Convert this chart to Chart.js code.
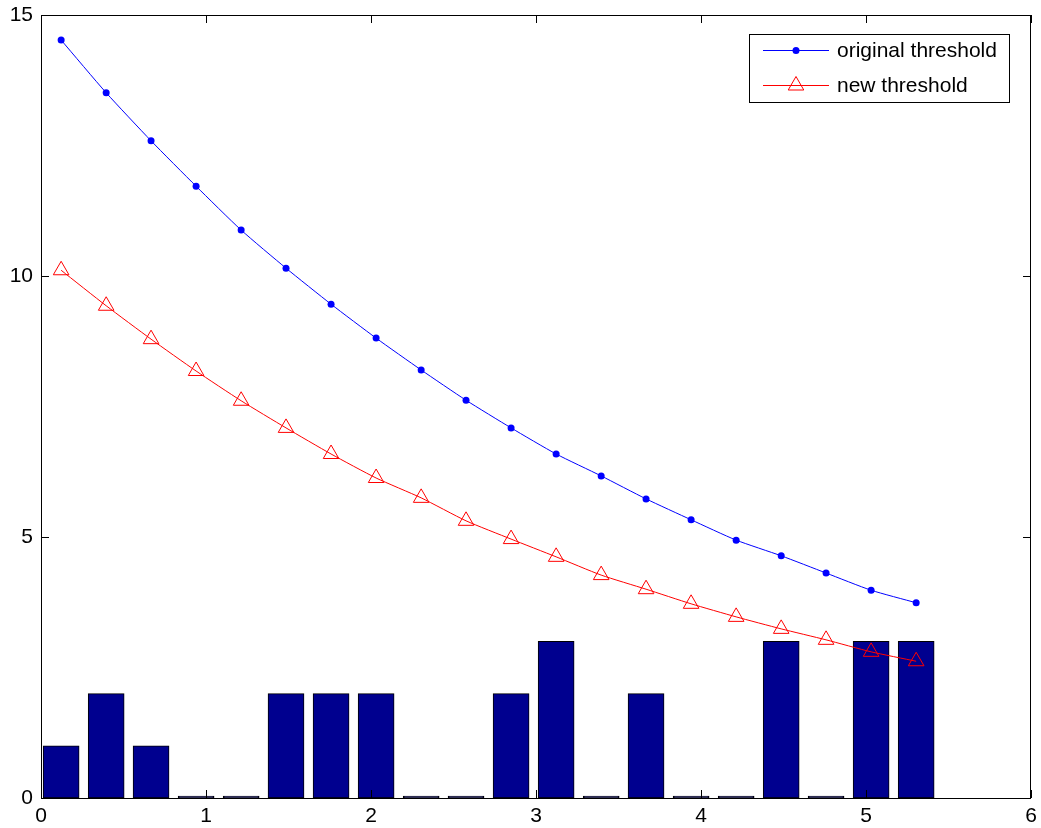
<!DOCTYPE html>
<html>
<head>
<meta charset="utf-8">
<script src="https://cdn.jsdelivr.net/npm/chart.js@4"></script>
<style>
  body { margin: 0; background: #fff; }
  canvas { display: block; }
</style>
</head>
<body>
<canvas id="myChart" width="1041" height="828"></canvas>
<script>
// x positions of samples (shared by bars and both lines)
const xValues = [0.122, 0.395, 0.667, 0.94, 1.213, 1.485, 1.758, 2.031, 2.304, 2.576,
                 2.849, 3.122, 3.395, 3.667, 3.94, 4.213, 4.486, 4.758, 5.031, 5.304];
const barCounts = [1, 2, 1, 0, 0, 2, 2, 2, 0, 0, 2, 3, 0, 2, 0, 0, 3, 0, 3, 3];
const originalThreshold = [14.52, 13.51, 12.59, 11.72, 10.88, 10.15, 9.46, 8.81, 8.20, 7.62,
                           7.09, 6.59, 6.17, 5.73, 5.33, 4.94, 4.64, 4.31, 3.98, 3.74];
const newThreshold = [10.11, 9.43, 8.79, 8.18, 7.61, 7.09, 6.59, 6.13, 5.75, 5.31,
                      4.96, 4.62, 4.27, 4.00, 3.72, 3.47, 3.24, 3.03, 2.80, 2.62];
const xTicks = [0, 1, 2, 3, 4, 5, 6];
const yTicks = [0, 5, 10, 15];

const toPoints = (ys) => xValues.map((x, i) => ({ x: x, y: ys[i] }));
const FONT = { family: 'Liberation Sans, Arial, sans-serif', size: 21, lineHeight: 1 };

const noPad = (s) => { s.paddingLeft = 0; s.paddingRight = 0; s.paddingTop = 0; s.paddingBottom = 0; };

// box around the plot, inward tick marks, and the matlab-style legend
const matlabFrame = {
    id: 'matlabFrame',
    afterDraw(chart) {
        const c = chart.ctx, a = chart.chartArea;
        const xs = chart.scales.x, ys = chart.scales.y;
        c.save();
        c.strokeStyle = '#000';
        c.lineWidth = 1;
        c.strokeRect(a.left + 0.5, a.top + 0.5, a.right - a.left - 1, a.bottom - a.top);
        c.beginPath();
        xTicks.forEach(v => {
            const px = Math.round(xs.getPixelForValue(v)) + 0.5;
            c.moveTo(px, a.bottom); c.lineTo(px, a.bottom - 8);
            c.moveTo(px, a.top); c.lineTo(px, a.top + 8);
        });
        yTicks.forEach(v => {
            const py = Math.round(ys.getPixelForValue(v)) + 0.5;
            c.moveTo(a.left, py); c.lineTo(a.left + 8, py);
            c.moveTo(a.right, py); c.lineTo(a.right - 8, py);
        });
        c.stroke();

        // legend
        const bx = 749, by = 34, bw = 260, bh = 68;
        c.fillStyle = '#fff';
        c.fillRect(bx, by, bw, bh);
        c.strokeRect(bx + 0.5, by + 0.5, bw, bh);
        const rows = [chart.data.datasets[0], chart.data.datasets[1]];
        rows.forEach((ds, i) => {
            const cy = by + 16 + i * 35;
            c.strokeStyle = ds.borderColor;
            c.lineWidth = 1;
            c.beginPath();
            c.moveTo(763, cy + 0.5); c.lineTo(829, cy + 0.5);
            c.stroke();
            c.fillStyle = ds.pointBackgroundColor;
            c.strokeStyle = ds.pointBorderColor;
            Chart.helpers.drawPoint(c, {
                pointStyle: ds.pointStyle, radius: ds.pointRadius,
                borderWidth: ds.pointBorderWidth, rotation: 0
            }, 796, cy + 0.5);
            c.fillStyle = '#000';
            c.font = '21px ' + FONT.family;
            c.textBaseline = 'middle';
            c.fillText(ds.label, 837, cy + 1);
        });
        c.restore();
    }
};

const ctx = document.getElementById('myChart').getContext('2d');
const myChart = new Chart(ctx, {
    type: 'bar',
    data: {
        datasets: [
            {
                type: 'line',
                label: 'original threshold',
                data: toPoints(originalThreshold),
                borderColor: '#0000ff',
                borderWidth: 1,
                pointStyle: 'circle',
                pointRadius: 3.5,
                pointBackgroundColor: '#0000ff',
                pointBorderColor: '#0000ff',
                pointBorderWidth: 0,
                tension: 0.2,
                order: 1
            },
            {
                type: 'line',
                label: 'new threshold',
                data: toPoints(newThreshold),
                borderColor: '#ff0000',
                borderWidth: 1,
                pointStyle: 'triangle',
                pointRadius: 9,
                pointBackgroundColor: 'rgba(0,0,0,0)',
                pointBorderColor: '#ff0000',
                pointBorderWidth: 1,
                tension: 0.2,
                order: 2
            },
            {
                type: 'bar',
                label: 'counts',
                data: toPoints(barCounts),
                backgroundColor: '#00008f',
                borderColor: '#000000',
                borderWidth: 1,
                borderSkipped: false,
                barThickness: 36,
                minBarLength: 2,
                order: 3
            }
        ]
    },
    options: {
        responsive: false,
        animation: false,
        events: [],
        layout: { padding: { top: 15, right: 10, left: 0, bottom: 0 } },
        plugins: {
            legend: { display: false },
            tooltip: { enabled: false }
        },
        scales: {
            x: {
                type: 'linear',
                min: 0,
                max: 6,
                offset: false,
                afterFit: (s) => { s.height = 30; noPad(s); },
                afterBuildTicks: (s) => { s.ticks = xTicks.map(v => ({ value: v })); },
                ticks: { color: '#000', font: FONT, padding: 8, maxRotation: 0 },
                grid: { display: false, drawTicks: false, offset: false },
                border: { display: false }
            },
            y: {
                type: 'linear',
                min: 0,
                max: 15,
                afterFit: (s) => { s.width = 41; noPad(s); },
                afterBuildTicks: (s) => { s.ticks = yTicks.map(v => ({ value: v })); },
                ticks: { color: '#000', font: FONT, padding: 8 },
                grid: { display: false, drawTicks: false },
                border: { display: false }
            }
        }
    },
    plugins: [matlabFrame]
});
</script>
</body>
</html>
